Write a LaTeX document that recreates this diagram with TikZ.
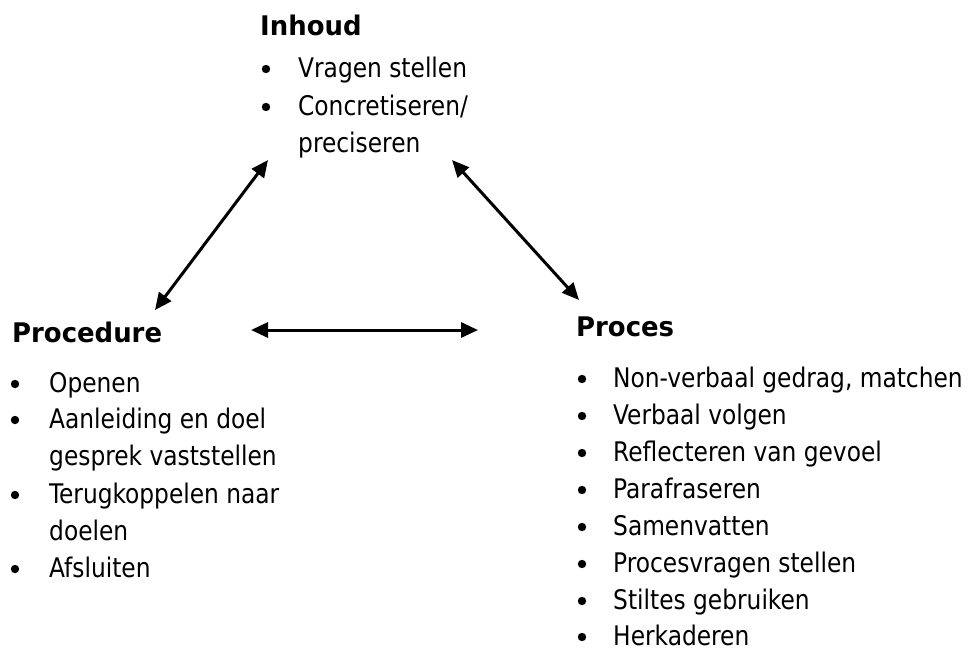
\documentclass[tikz,border=0pt]{standalone}
\usepackage{fontspec}
\setmainfont{DejaVu Sans Condensed}[FakeStretch=0.96]
\newfontfamily\hdfont{DejaVu Sans Bold}[FakeStretch=0.96]
\usetikzlibrary{arrows.meta}
\tikzset{
  txt/.style={anchor=base west,inner sep=0pt,font=\fontsize{27}{32}\selectfont},
  hd/.style={anchor=base west,inner sep=0pt,font=\fontsize{27}{32}\selectfont\hdfont},
  conn/.style={line width=3pt,{Triangle[length=17pt,width=15pt]}-{Triangle[length=17pt,width=15pt]}},
}
\newcommand{\bul}[2]{\fill (#1,#2-8) circle (4.2pt);}
\begin{document}
\begin{tikzpicture}[x=1pt,y=-1pt]
\useasboundingbox (0,0) rectangle (973,648);
% Inhoud
\node[hd] (inh) at (260,35) {Inhoud};
\bul{266}{77}\node[txt] (i1) at (298,77) {Vragen stellen};
\bul{266}{115}\node[txt] (i2) at (298,115) {Concretiseren/};
\node[txt] (i3) at (298,152) {preciseren};
% Procedure
\node[hd] (proc) at (12,342) {Procedure};
\bul{15}{392}\node[txt] (p1) at (49,392) {Openen};
\bul{15}{428}\node[txt] (p2) at (49,428) {Aanleiding en doel};
\node[txt] (p3) at (49,465) {gesprek vaststellen};
\bul{15}{503}\node[txt] (p4) at (49,503) {Terugkoppelen naar};
\node[txt] (p5) at (49,540) {doelen};
\bul{15}{577}\node[txt] (p6) at (49,577) {Afsluiten};
% Proces
\node[hd] (pr) at (576,336) {Proces};
\bul{582}{387}\node[txt] (r1) at (613,387) {Non-verbaal gedrag, matchen};
\bul{582}{424}\node[txt] (r2) at (613,424) {Verbaal volgen};
\bul{582}{461}\node[txt] (r3) at (613,461) {Reflecteren van gevoel};
\bul{582}{498}\node[txt] (r4) at (613,498) {Parafraseren};
\bul{582}{535}\node[txt] (r5) at (613,535) {Samenvatten};
\bul{582}{572}\node[txt] (r6) at (613,572) {Procesvragen stellen};
\bul{582}{609}\node[txt] (r7) at (613,609) {Stiltes gebruiken};
\bul{582}{645}\node[txt] (r8) at (613,645) {Herkaderen};
% arrows
\coordinate (a1) at (155,310);
\coordinate (a2) at (268,160);
\coordinate (b1) at (452,160);
\coordinate (b2) at (579,300);
\coordinate (c1) at (251,330);
\coordinate (c2) at (478,330);
\draw[conn] (a1) -- (a2);
\draw[conn] (b1) -- (b2);
\draw[conn] (c1) -- (c2);
\end{tikzpicture}
\end{document}
